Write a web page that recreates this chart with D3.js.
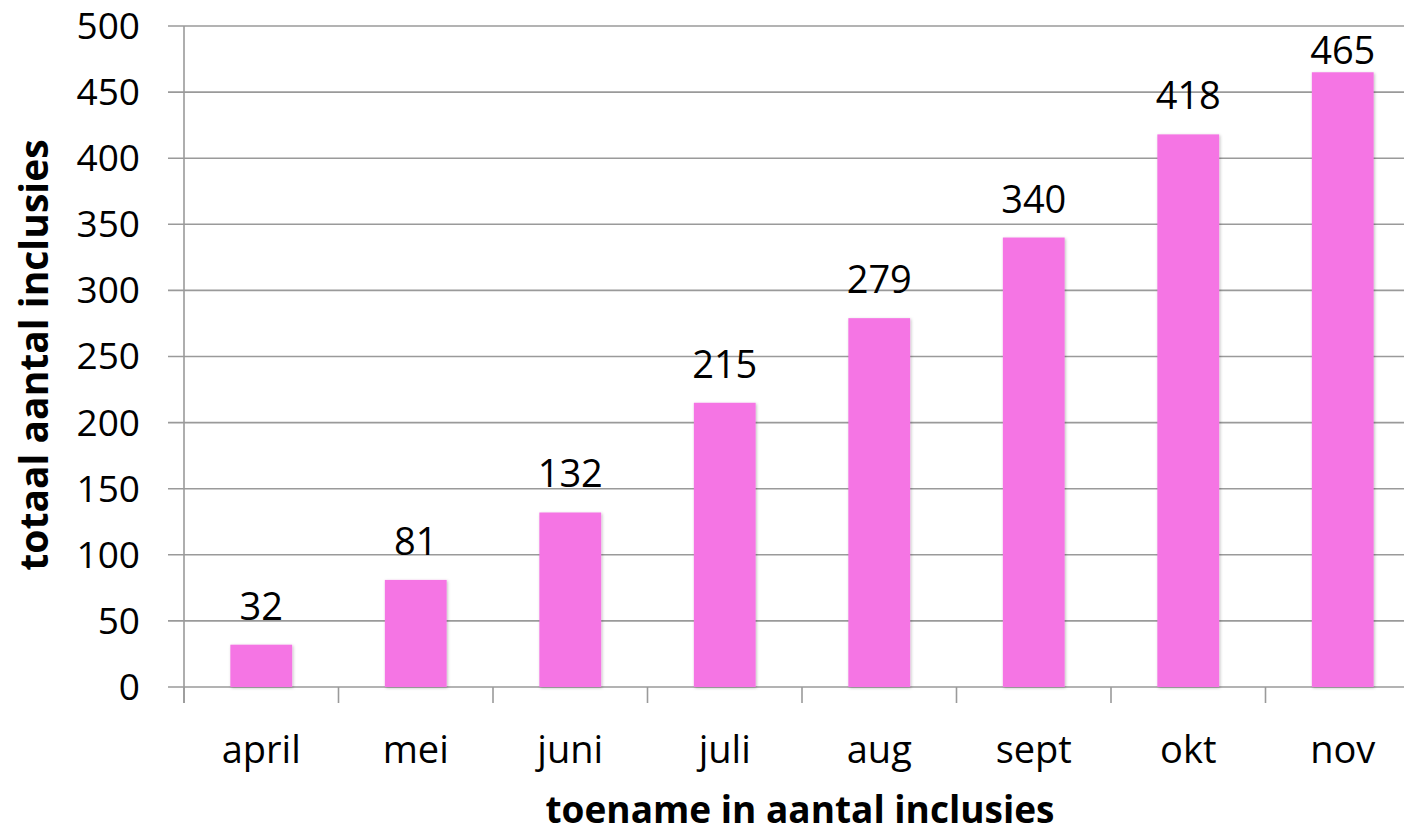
<!DOCTYPE html>
<html><head><meta charset="utf-8">
<script src="https://cdn.jsdelivr.net/npm/d3@7"></script>
<style>body{margin:0;background:#fff}svg{display:block}text{font-family:"Open Sans",sans-serif}</style>
</head><body>
<svg id="c" width="1404" height="835"></svg>
<script>
const categories = ["april","mei","juni","juli","aug","sept","okt","nov"];
const values = [32,81,132,215,279,340,418,465];
const yTicks = [0,50,100,150,200,250,300,350,400,450,500];
const yTitle = "totaal aantal inclusies";
const xTitle = "toename in aantal inclusies";

const svg = d3.select("#c");
const x = d3.scaleBand().domain(categories).range([184,1420]).paddingInner(0.6).paddingOuter(0.3);
const y = d3.scaleLinear().domain([0,500]).range([687,26]);

const defs = svg.append("defs");
const f = defs.append("filter").attr("id","sh").attr("x","-20%").attr("y","-20%").attr("width","140%").attr("height","140%");
f.append("feDropShadow").attr("dx",1).attr("dy",1).attr("stdDeviation",1.5).attr("flood-color","#000").attr("flood-opacity",0.25);

// gridlines
svg.append("g").selectAll("line").data(yTicks).join("line")
  .attr("x1",168).attr("x2",1404).attr("y1",d=>y(d)).attr("y2",d=>y(d))
  .attr("stroke","#9a9a9a").attr("stroke-width",1.6);

// y axis line
svg.append("line").attr("x1",184).attr("x2",184).attr("y1",y(500)).attr("y2",y(0)+16)
  .attr("stroke","#9a9a9a").attr("stroke-width",1.6);

// x ticks at band boundaries
const step = x.step();
const bounds = d3.range(categories.length+1).map(i=>184+i*step);
svg.append("g").selectAll("line").data(bounds).join("line")
  .attr("x1",d=>d).attr("x2",d=>d).attr("y1",y(0)).attr("y2",y(0)+16)
  .attr("stroke","#9a9a9a").attr("stroke-width",1.6);

// y tick labels
svg.append("g").selectAll("text").data(yTicks).join("text")
  .attr("x",140).attr("y",d=>y(d)).attr("dy","0.35em").attr("text-anchor","end")
  .attr("font-size",37).attr("fill","#000").text(d=>d);

// bars
svg.append("g").selectAll("rect").data(values).join("rect")
  .attr("x",(d,i)=>x(categories[i])).attr("width",x.bandwidth())
  .attr("y",d=>y(d)).attr("height",d=>y(0)-y(d))
  .attr("fill","#f574e4").attr("filter","url(#sh)");

// value labels
svg.append("g").selectAll("text").data(values).join("text")
  .attr("x",(d,i)=>x(categories[i])+x.bandwidth()/2).attr("y",d=>Math.max(y(d)-25,64))
  .attr("text-anchor","middle").attr("font-size",38).attr("fill","#000").text(d=>d);

// category labels
svg.append("g").selectAll("text").data(categories).join("text")
  .attr("x",d=>x(d)+x.bandwidth()/2).attr("y",763)
  .attr("text-anchor","middle").attr("font-size",38).attr("fill","#000").text(d=>d);

// axis titles
svg.append("text").attr("x",800).attr("y",823).attr("text-anchor","middle")
  .attr("font-size",37).attr("font-weight","bold").text(xTitle);
svg.append("text").attr("transform","translate(48,355) rotate(-90)").attr("text-anchor","middle")
  .attr("font-size",39).attr("font-weight","bold").text(yTitle);
</script>
</body></html>
